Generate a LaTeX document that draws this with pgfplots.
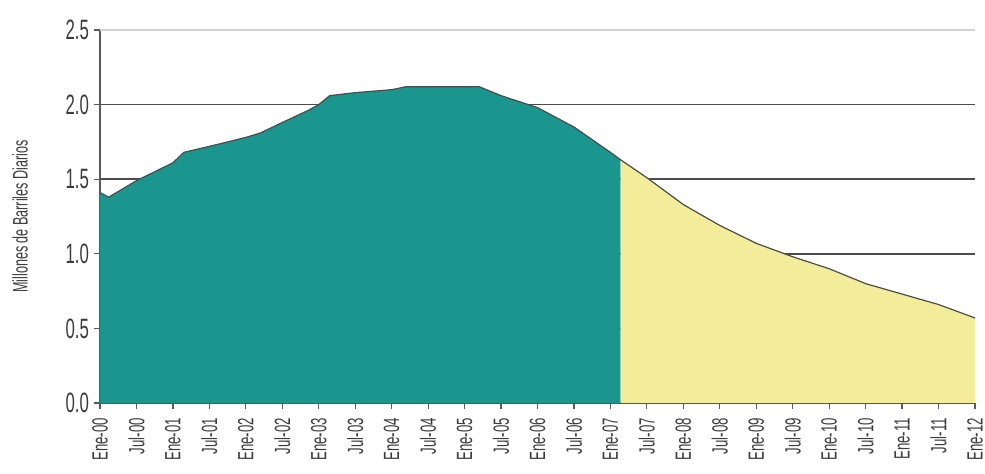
\documentclass[border=0pt]{standalone}
\usepackage{fontspec}
\setmainfont{Liberation Sans}[FakeStretch=0.6]
\usepackage{pgfplots}
\pgfplotsset{compat=1.18}
\definecolor{tealfill}{RGB}{27,150,143}
\definecolor{yellowfill}{RGB}{243,236,155}
\definecolor{txt}{RGB}{60,60,60}
\begin{document}
\begin{tikzpicture}
\begin{axis}[
  at={(0,0)}, anchor=south west,
  scale only axis, width=437.5pt, height=186.5pt,
  xmin=2000, xmax=2012, ymin=0, ymax=2.5,
  axis x line=bottom, axis y line=left,
  axis line style={-, draw=gray!70!black, line width=0.6pt},
  ytick={0,0.5,1,1.5,2},
  extra y ticks={2.5},
  extra y tick style={major grid style={gray!35, line width=0.6pt}},
  ymajorgrids,
  major grid style={draw=gray!60!black, line width=0.8pt},
  tick align=outside,
  major tick length=3pt,
  tick style={draw=gray!70!black, line width=0.6pt},
  /pgf/number format/assume math mode=true,
  /pgf/number format/fixed, /pgf/number format/fixed zerofill, /pgf/number format/precision=1,
  yticklabel style={font=\fontsize{14}{14}\selectfont, text=txt, xshift=1pt},
  xtick={2000,2000.5,...,2012},
  xticklabels={Ene-00,Jul-00,Ene-01,Jul-01,Ene-02,Jul-02,Ene-03,Jul-03,Ene-04,Jul-04,Ene-05,Jul-05,Ene-06,Jul-06,Ene-07,Jul-07,Ene-08,Jul-08,Ene-09,Jul-09,Ene-10,Jul-10,Ene-11,Jul-11,Ene-12},
  xticklabel style={rotate=90, anchor=east, font=\fontsize{11}{11}\selectfont, text=txt, xshift=-1pt},
  ylabel={Millones de Barriles Diarios},
  every axis y label/.style={at={(axis description cs:-0.0914,0.5)}, rotate=90, anchor=center, font=\fontsize{10.5}{10.5}\selectfont, text=txt},
]
\addplot[fill=tealfill, draw=none] coordinates {
(2000.0,1.41) (2000.12,1.38) (2000.5,1.49) (2001.0,1.61) (2001.15,1.68) (2001.5,1.72)
(2002.0,1.78) (2002.2,1.81) (2002.5,1.88) (2002.85,1.96) (2003.0,2.00) (2003.15,2.06)
(2003.5,2.08) (2004.0,2.10) (2004.2,2.12) (2004.5,2.12) (2005.0,2.12) (2005.2,2.12)
(2005.5,2.06) (2006.0,1.98) (2006.5,1.85) (2007.0,1.68) (2007.14,1.63)
} \closedcycle;
\addplot[fill=yellowfill, draw=none] coordinates {
(2007.14,1.63) (2007.5,1.51) (2008.0,1.33) (2008.5,1.19) (2009.0,1.07) (2009.5,0.98)
(2010.0,0.90) (2010.5,0.80) (2011.0,0.73) (2011.5,0.66) (2012.0,0.57)
} \closedcycle;
\addplot[draw=black!70, line width=0.6pt] coordinates {
(2000.0,1.41) (2000.12,1.38) (2000.5,1.49) (2001.0,1.61) (2001.15,1.68) (2001.5,1.72)
(2002.0,1.78) (2002.2,1.81) (2002.5,1.88) (2002.85,1.96) (2003.0,2.00) (2003.15,2.06)
(2003.5,2.08) (2004.0,2.10) (2004.2,2.12) (2004.5,2.12) (2005.0,2.12) (2005.2,2.12)
(2005.5,2.06) (2006.0,1.98) (2006.5,1.85) (2007.0,1.68) (2007.14,1.63)
(2007.5,1.51) (2008.0,1.33) (2008.5,1.19) (2009.0,1.07) (2009.5,0.98)
(2010.0,0.90) (2010.5,0.80) (2011.0,0.73) (2011.5,0.66) (2012.0,0.57)
};
\end{axis}
\pgfresetboundingbox
\useasboundingbox (-50pt,-35.5pt) rectangle (442.5pt,201.5pt);
\end{tikzpicture}
\end{document}
